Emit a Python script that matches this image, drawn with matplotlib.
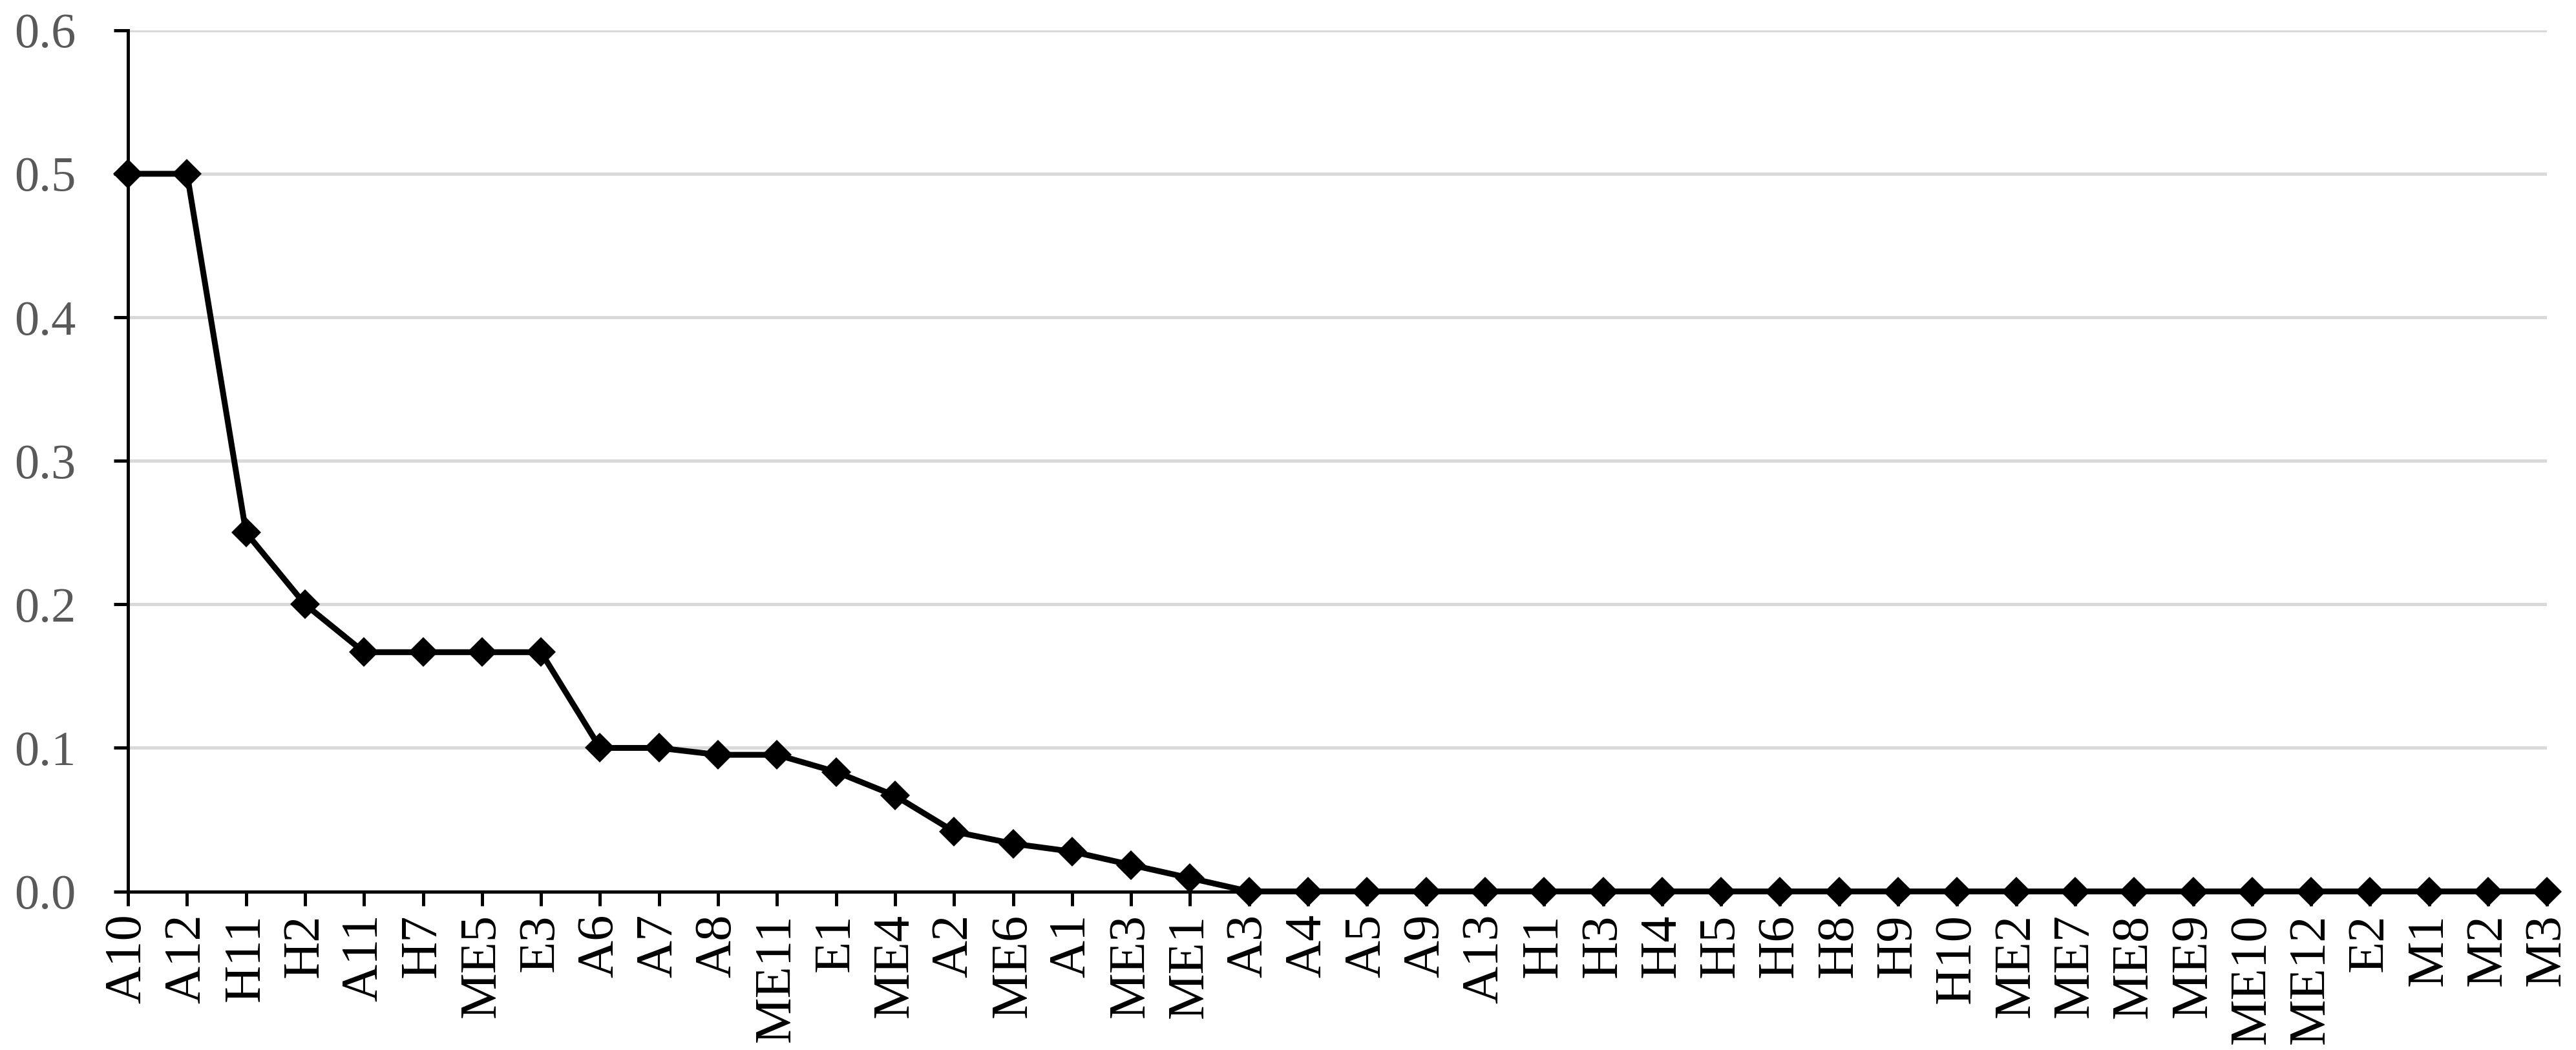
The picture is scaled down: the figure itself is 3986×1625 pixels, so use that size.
import matplotlib
matplotlib.use("Agg")
import matplotlib.pyplot as plt

categories = ["A10", "A12", "H11", "H2", "A11", "H7", "ME5", "E3", "A6", "A7", "A8",
              "ME11", "E1", "ME4", "A2", "ME6", "A1", "ME3", "ME1", "A3", "A4", "A5",
              "A9", "A13", "H1", "H3", "H4", "H5", "H6", "H8", "H9", "H10", "ME2",
              "ME7", "ME8", "ME9", "ME10", "ME12", "E2", "M1", "M2", "M3"]
values = [0.5, 0.5, 0.25, 0.2, 0.1667, 0.1667, 0.1667, 0.1667, 0.1, 0.1, 0.0952,
          0.0952, 0.0833, 0.0667, 0.0417, 0.0333, 0.0278, 0.0185, 0.0093, 0, 0, 0,
          0, 0, 0, 0, 0, 0, 0, 0, 0, 0, 0,
          0, 0, 0, 0, 0, 0, 0, 0, 0]
yticks = [0.0, 0.1, 0.2, 0.3, 0.4, 0.5, 0.6]
ytick_labels = ["0.0", "0.1", "0.2", "0.3", "0.4", "0.5", "0.6"]

plt.rcParams["font.family"] = ["Liberation Serif", "DejaVu Serif"]

fig = plt.figure(figsize=(39.86, 16.25), dpi=100)
ax = fig.add_axes([0.0497, 0.151, 0.9888 - 0.0497, 0.9712 - 0.151])

x = list(range(len(categories)))
ax.plot(x, values, color="black", lw=6.5, marker="D", markersize=23,
        markerfacecolor="black", markeredgecolor="black", markeredgewidth=0,
        zorder=3, clip_on=False)

ax.set_xlim(0, len(categories) - 1)
ax.set_ylim(0, 0.6)
ax.set_yticks(yticks)
ax.set_yticklabels(ytick_labels)
ax.set_xticks(x)
ax.set_xticklabels(categories, rotation=90)

ax.grid(axis="y", color="#D9D9D9", lw=3.6, zorder=0)
ax.set_axisbelow(True)
for s in ["top", "right"]:
    ax.spines[s].set_visible(False)
for s in ["left", "bottom"]:
    ax.spines[s].set_color("black")
    ax.spines[s].set_linewidth(3.6)
    ax.spines[s].set_zorder(2)

ax.tick_params(axis="y", length=16, width=3.6, color="black", labelsize=55,
               labelcolor="#595959", pad=42)
ax.tick_params(axis="x", length=16, width=3.6, color="black", labelsize=58,
               labelcolor="black", pad=9)

fig.savefig("out.png", dpi=100, facecolor="white")
